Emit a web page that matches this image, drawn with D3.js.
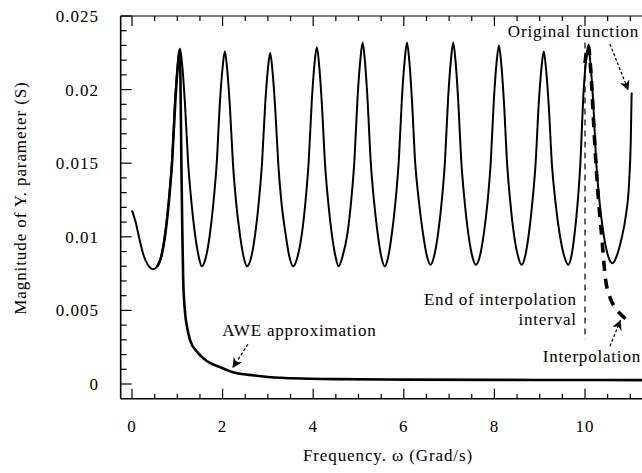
<!DOCTYPE html>
<html>
<head>
<meta charset="utf-8">
<script src="https://cdn.jsdelivr.net/npm/d3@7"></script>
<style>
  body { margin: 0; background: #fff; }
  svg { display: block; }
</style>
</head>
<body>
<svg id="chart" width="642" height="473"></svg>
<script>
// values: [frequency (Grad/s), |Y| (S)]
const originalCurve = [
  [0.00,0.0118],[0.08,0.0110],[0.16,0.0099],[0.25,0.0088],[0.35,0.0081],[0.47,0.0078],[0.56,0.0080],
  [0.64,0.0086],[0.73,0.0102],[0.81,0.0124],[0.88,0.0150],[0.95,0.0192],[1.01,0.0217],[1.06,0.0228],
  [1.11,0.0216],[1.17,0.0190],[1.24,0.0150],[1.31,0.0124],[1.39,0.0102],[1.47,0.0087],[1.54,0.0080],
  [1.63,0.0086],[1.72,0.0102],[1.80,0.0124],[1.87,0.0150],[1.94,0.0191],[2.00,0.0215],[2.05,0.0226],
  [2.10,0.0214],[2.16,0.0189],[2.23,0.0149],[2.30,0.0123],[2.38,0.0102],[2.46,0.0087],[2.54,0.0080],
  [2.63,0.0086],[2.72,0.0102],[2.80,0.0124],[2.87,0.0150],[2.94,0.0190],[3.00,0.0214],[3.05,0.0225],
  [3.10,0.0213],[3.16,0.0188],[3.23,0.0149],[3.30,0.0123],[3.39,0.0102],[3.47,0.0087],[3.56,0.0080],
  [3.65,0.0086],[3.75,0.0102],[3.83,0.0124],[3.90,0.0151],[3.97,0.0193],[4.03,0.0218],[4.08,0.0229],
  [4.13,0.0217],[4.19,0.0191],[4.26,0.0150],[4.33,0.0124],[4.41,0.0102],[4.49,0.0087],[4.56,0.0080],
  [4.65,0.0087],[4.76,0.0103],[4.84,0.0125],[4.91,0.0152],[4.98,0.0195],[5.04,0.0220],[5.09,0.0232],
  [5.14,0.0220],[5.20,0.0193],[5.27,0.0151],[5.34,0.0125],[5.42,0.0103],[5.50,0.0087],[5.58,0.0080],
  [5.66,0.0087],[5.74,0.0103],[5.82,0.0125],[5.89,0.0152],[5.96,0.0195],[6.02,0.0220],[6.07,0.0232],
  [6.12,0.0220],[6.18,0.0193],[6.25,0.0151],[6.33,0.0125],[6.42,0.0103],[6.51,0.0087],[6.59,0.0081],
  [6.67,0.0087],[6.76,0.0103],[6.84,0.0125],[6.91,0.0152],[6.98,0.0195],[7.04,0.0220],[7.09,0.0232],
  [7.14,0.0220],[7.20,0.0193],[7.27,0.0151],[7.34,0.0125],[7.42,0.0103],[7.51,0.0087],[7.59,0.0081],
  [7.68,0.0087],[7.77,0.0103],[7.85,0.0124],[7.92,0.0151],[7.99,0.0194],[8.05,0.0219],[8.10,0.0230],
  [8.15,0.0218],[8.21,0.0192],[8.28,0.0150],[8.35,0.0124],[8.43,0.0102],[8.52,0.0087],[8.60,0.0081],
  [8.68,0.0087],[8.76,0.0102],[8.84,0.0124],[8.91,0.0150],[8.98,0.0191],[9.04,0.0215],[9.09,0.0226],
  [9.14,0.0214],[9.20,0.0189],[9.27,0.0149],[9.35,0.0123],[9.44,0.0102],[9.54,0.0087],[9.63,0.0081],
  [9.70,0.0087],[9.77,0.0102],[9.84,0.0124],[9.90,0.0151],[9.96,0.0194],[10.02,0.0219],[10.07,0.0230],
  [10.12,0.0218],[10.18,0.0192],[10.25,0.0150],[10.32,0.0124],[10.41,0.0102],[10.51,0.0087],[10.61,0.0082],
  [10.70,0.0087],[10.80,0.0098],[10.90,0.0114],[10.97,0.0135],[11.01,0.0165],[11.03,0.0198]
];

const aweCurve = [
  [0.56,0.0080],[0.65,0.0087],[0.74,0.0103],[0.82,0.0126],[0.89,0.0153],[0.96,0.0194],[1.01,0.0216],[1.05,0.0227],
  [1.07,0.0205],[1.09,0.0150],[1.11,0.0105],[1.13,0.0071],[1.17,0.0049],[1.22,0.0038],
  [1.28,0.0030],[1.43,0.0022],[1.66,0.00155],[1.94,0.00115],[2.23,0.0008],[2.70,0.00058],
  [3.27,0.00042],[4.50,0.00033],[6.00,0.00030],[8.00,0.00028],[10.00,0.00027],[11.40,0.00026]
];

const interpCurve = [
  [10.00,0.0218],[10.07,0.0230],[10.13,0.0212],[10.20,0.0172],[10.28,0.0132],[10.37,0.0100],
  [10.45,0.0072],[10.55,0.0059],[10.66,0.0052],[10.80,0.0047],[10.95,0.0043]
];

const endOfInterval = 10.0;

const xMajorTicks = [0, 2, 4, 6, 8, 10];
const yMajorTicks = [0, 0.005, 0.01, 0.015, 0.02, 0.025];
const yTickLabels = ["0", "0.005", "0.01", "0.015", "0.02", "0.025"];

const xTitle = "Frequency. \u03c9 (Grad/s)";
const yTitle = "Magnitude of Y. parameter (S)";

const svg = d3.select("#chart").style("font-family", '"Liberation Serif"');

const x = d3.scaleLinear().domain([0, 10]).range([132, 585]);
const y = d3.scaleLinear().domain([0, 0.025]).range([384, 16]);

const xMin = -0.25, xMax = 11.6;
const yMin = -0.001, yMax = 0.025;
const pLeft = x(xMin), pRight = x(xMax), pTop = y(yMax), pBottom = y(yMin);

const defs = svg.append("defs");
defs.append("clipPath").attr("id", "plot")
  .append("rect").attr("x", pLeft).attr("y", pTop - 10)
  .attr("width", pRight - pLeft).attr("height", pBottom - pTop + 10);

defs.append("marker")
  .attr("id", "head").attr("viewBox", "0 0 10 10")
  .attr("refX", 9).attr("refY", 5)
  .attr("markerWidth", 10).attr("markerHeight", 10)
  .attr("markerUnits", "userSpaceOnUse")
  .attr("orient", "auto")
  .append("path").attr("d", "M0,0 L10,5 L0,10 L3,5 Z").attr("fill", "#000");

// frame
const frame = svg.append("g").attr("stroke", "#000").attr("fill", "none");
frame.append("line").attr("x1", pLeft).attr("x2", pLeft).attr("y1", pTop).attr("y2", pBottom).attr("stroke-width", 1.6);
frame.append("line").attr("x1", pLeft).attr("x2", pRight).attr("y1", pBottom).attr("y2", pBottom).attr("stroke-width", 1.6);
frame.append("line").attr("x1", pLeft).attr("x2", pRight).attr("y1", pTop).attr("y2", pTop).attr("stroke-width", 1);

// y ticks (inward), minor every 0.001
const yTicks = d3.range(0, 0.0251, 0.001);
frame.selectAll(".yt").data(yTicks).enter().append("line")
  .attr("x1", pLeft).attr("y1", d => y(d)).attr("y2", d => y(d))
  .attr("x2", (d, i) => pLeft + (i % 5 === 0 ? 11 : 6))
  .attr("stroke-width", 1.2);

// x ticks (inward on bottom and top), minor every 0.5
const xTicks = d3.range(0, 11.51, 0.5);
frame.selectAll(".xb").data(xTicks).enter().append("line")
  .attr("x1", d => x(d)).attr("x2", d => x(d))
  .attr("y1", pBottom).attr("y2", (d, i) => pBottom - (i % 4 === 0 ? 10 : 5))
  .attr("stroke-width", 1.2);
frame.selectAll(".xt").data(xTicks).enter().append("line")
  .attr("x1", d => x(d)).attr("x2", d => x(d))
  .attr("y1", pTop).attr("y2", (d, i) => pTop + (i % 4 === 0 ? 10 : 5))
  .attr("stroke-width", 1.2);

// tick labels
svg.selectAll(".ylab").data(yMajorTicks).enter().append("text")
  .style("font-family", '"Liberation Serif"')
  .attr("x", 99).attr("y", d => y(d)).attr("dy", "0.35em")
  .attr("text-anchor", "end").attr("font-size", 17).attr("letter-spacing", 1)
  .text((d, i) => yTickLabels[i]);

svg.selectAll(".xlab").data(xMajorTicks).enter().append("text")
  .style("font-family", '"Liberation Serif"')
  .attr("x", d => x(d)).attr("y", 432)
  .attr("text-anchor", "middle").attr("font-size", 17).attr("letter-spacing", 1)
  .text(d => d);

svg.append("text")
  .style("font-family", '"Liberation Serif"')
  .attr("x", 388).attr("y", 461).attr("text-anchor", "middle")
  .attr("font-size", 17).attr("letter-spacing", 0.9)
  .text(xTitle);

svg.append("text")
  .style("font-family", '"Liberation Serif"')
  .attr("transform", "translate(26,198) rotate(-90)")
  .attr("text-anchor", "middle").attr("font-size", 17).attr("letter-spacing", 0.9)
  .text(yTitle);

// curves
const line = d3.line().x(d => x(d[0])).y(d => y(d[1])).curve(d3.curveMonotoneX);
const plot = svg.append("g").attr("clip-path", "url(#plot)").attr("fill", "none").attr("stroke", "#000");

plot.append("line")
  .attr("x1", x(endOfInterval)).attr("x2", x(endOfInterval))
  .attr("y1", y(0.0232)).attr("y2", y(0.003))
  .attr("stroke-width", 1.2).attr("stroke-dasharray", "6,5");

plot.append("path").datum(originalCurve).attr("d", line).attr("stroke-width", 2);
plot.append("path").datum(aweCurve).attr("d", line).attr("stroke-width", 2.6);
plot.append("path").datum(interpCurve).attr("d", line)
  .attr("stroke-width", 3.6).attr("stroke-dasharray", "10,8");

// annotations (anchored in data coordinates)
const notes = svg.append("g").attr("font-size", 17).attr("letter-spacing", 0.8);
const note = (xp, yp, anchor, txt) => notes.append("text")
  .style("font-family", '"Liberation Serif"')
  .attr("x", xp).attr("y", yp).attr("text-anchor", anchor).text(txt);
note(639, y(0.0236), "end", "Original function");
note(x(9.82), y(0.0054), "end", "End of interpolation");
note(x(9.82), y(0.0040), "end", "interval");
note(641, y(0.00149), "end", "Interpolation");
note(x(1.99), y(0.00324), "start", "AWE approximation");

const arrows = [
  { from: [2.56, 0.0027], to: [2.23, 0.00115] },
  { from: [10.55, 0.0231], to: [10.95, 0.0200] },
  { from: [10.55, 0.00257], to: [10.78, 0.00430] }
];
svg.append("g").selectAll("line").data(arrows).enter().append("line")
  .attr("x1", d => x(d.from[0])).attr("y1", d => y(d.from[1]))
  .attr("x2", d => x(d.to[0])).attr("y2", d => y(d.to[1]))
  .attr("stroke", "#000").attr("stroke-width", 1.2)
  .attr("stroke-dasharray", "3,2")
  .attr("marker-end", "url(#head)");
</script>
</body>
</html>
